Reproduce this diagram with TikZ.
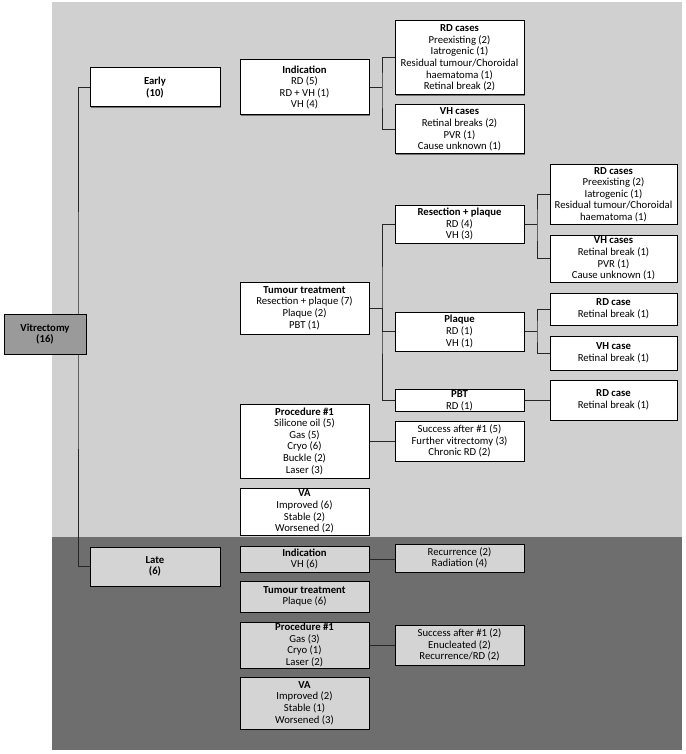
\documentclass[tikz,border=0pt]{standalone}
\usepackage{fontspec}
\setmainfont{Carlito}
\usetikzlibrary{shadows}
\pgfdeclarelayer{bg}
\pgfdeclarelayer{lines}
\pgfsetlayers{bg,lines,main}
\definecolor{lightbg}{RGB}{208,208,208}
\definecolor{darkbg}{RGB}{110,110,110}
\definecolor{vitfill}{RGB}{154,154,154}
\definecolor{latefill}{RGB}{212,212,212}
\begin{document}
\begin{tikzpicture}[x=1pt,y=-1pt,
  box/.style={draw=black, line width=1pt, fill=white, align=center, inner sep=0.5pt,
    font=\fontsize{10.7}{11.6}\selectfont,
    drop shadow={shadow xshift=1.2pt, shadow yshift=-1.2pt, opacity=0.45, fill=black}},
  lbox/.style={box, fill=latefill},
  c1/.style={minimum width=130pt},
  c2/.style={minimum width=129pt},
  c3/.style={minimum width=129pt},
  c4/.style={minimum width=127pt},
  wire/.style={draw=black!85, line width=1pt}]
\useasboundingbox (0,0) rectangle (685,754);
\begin{pgfonlayer}{bg}
  \fill[lightbg] (52,2) rectangle (682,537);
  \fill[darkbg] (52,537) rectangle (682,750);
\end{pgfonlayer}

% column 1
\node[box, fill=vitfill, minimum width=82pt, minimum height=40pt] (vit) at (45,334) {\textbf{Vitrectomy}\\\textbf{(16)}};
\node[box, c1, minimum height=39pt] (early) at (155,87.5) {\textbf{Early}\\\textbf{(10)}};
\node[lbox, c1, minimum height=39pt] (late) at (155,566.5) {\textbf{Late}\\\textbf{(6)}};

% column 2 early
\node[box, c2, minimum height=55pt] (ind) at (304.5,87.5) {\textbf{Indication}\\RD (5)\\RD + VH (1)\\VH (4)};
\node[box, c2, minimum height=52pt] (tt) at (304.5,308) {\textbf{Tumour treatment}\\Resection + plaque (7)\\Plaque (2)\\PBT (1)};
\node[box, c2, minimum height=74pt] (proc) at (304.5,441) {\textbf{Procedure \#1}\\Silicone oil (5)\\Gas (5)\\Cryo (6)\\Buckle (2)\\Laser (3)};
\node[box, c2, minimum height=47pt] (va) at (304.5,511.5) {\textbf{VA}\\Improved (6)\\Stable (2)\\Worsened (2)};

% column 2 late
\node[lbox, c2, minimum height=26pt] (indL) at (304.5,559) {\textbf{Indication}\\VH (6)};
\node[lbox, c2, minimum height=31pt] (ttL) at (304.5,596.5) {\textbf{Tumour treatment}\\Plaque (6)};
\node[lbox, c2, minimum height=46pt] (procL) at (304.5,645) {\textbf{Procedure \#1}\\Gas (3)\\Cryo (1)\\Laser (2)};
\node[lbox, c2, minimum height=52pt] (vaL) at (304.5,703) {\textbf{VA}\\Improved (2)\\Stable (1)\\Worsened (3)};

% column 3
\node[box, c3, minimum height=74pt] (rdA) at (459.5,58) {\textbf{RD cases}\\Preexisting (2)\\Iatrogenic (1)\\Residual tumour/Choroidal\\haematoma (1)\\Retinal break (2)};
\node[box, c3, minimum height=49pt] (vhA) at (459.5,129.5) {\textbf{VH cases}\\Retinal breaks (2)\\PVR (1)\\Cause unknown (1)};
\node[box, c3, minimum height=38pt] (res) at (459.5,224) {\textbf{Resection + plaque}\\RD (4)\\VH (3)};
\node[box, c3, minimum height=39pt] (plq) at (459.5,331.5) {\textbf{Plaque}\\RD (1)\\VH (1)};
\node[box, c3, minimum height=21pt] (pbt) at (459.5,400.5) {\textbf{PBT}\\RD (1)};
\node[box, c3, minimum height=40pt] (succ) at (459.5,441) {Success after \#1 (5)\\Further vitrectomy (3)\\Chronic RD (2)};
\node[lbox, c3, minimum height=28pt] (rec) at (459.5,558) {Recurrence (2)\\Radiation (4)};
\node[lbox, c3, minimum height=40pt] (succL) at (459.5,645) {Success after \#1 (2)\\Enucleated (2)\\Recurrence/RD (2)};

% column 4
\node[box, c4, minimum height=59pt] (rdB) at (613.5,194.5) {\textbf{RD cases}\\Preexisting (2)\\Iatrogenic (1)\\Residual tumour/Choroidal\\haematoma (1)};
\node[box, c4, minimum height=47pt] (vhB) at (613.5,258.5) {\textbf{VH cases}\\Retinal break (1)\\PVR (1)\\Cause unknown (1)};
\node[box, c4, minimum height=32pt] (rdC) at (613.5,309) {\textbf{RD case}\\Retinal break (1)};
\node[box, c4, minimum height=34pt] (vhC) at (613.5,353) {\textbf{VH case}\\Retinal break (1)};
\node[box, c4, minimum height=40pt] (rdD) at (613.5,400) {\textbf{RD case}\\Retinal break (1)};

% connectors
\begin{pgfonlayer}{lines}
  \coordinate (tr) at (78,334);
  \draw[wire] (early.west) -| (tr) |- (late.west);
  \coordinate (j1) at (382,87.5);
  \draw[wire] (ind.east) -- (j1);
  \draw[wire] (rdA.west) -| (j1) |- (vhA.west);
  \coordinate (j2) at (382,308);
  \draw[wire] (tt.east) -- (j2);
  \draw[wire] (res.west) -| (j2) |- (pbt.west);
  \draw[wire] (j2) |- (plq.west);
  \coordinate (j3) at (537,224);
  \draw[wire] (res.east) -- (j3);
  \draw[wire] (rdB.west) -| (j3) |- (vhB.west);
  \coordinate (j4) at (537,331.5);
  \draw[wire] (plq.east) -- (j4);
  \draw[wire] (rdC.west) -| (j4) |- (vhC.west);
  \draw[wire] (pbt.east) -- (pbt.east -| rdD.west);
  \draw[wire] (proc.east) -- (succ.west);
  \draw[wire] (indL.east) -- (indL.east -| rec.west);
  \draw[wire] (procL.east) -- (succL.west);
\end{pgfonlayer}
\end{tikzpicture}
\end{document}
